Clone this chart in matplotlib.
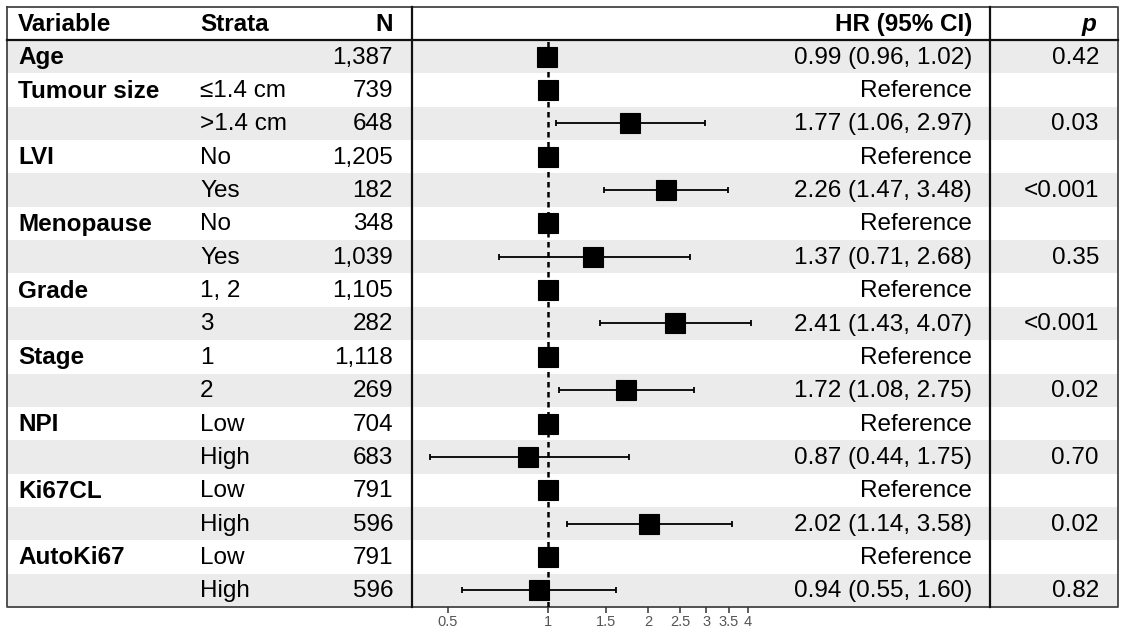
import numpy as np
import matplotlib.pyplot as plt

plt.rcParams['font.family'] = ['Liberation Sans', 'DejaVu Sans']

# table contents, one entry per row
variables = ['Age', 'Tumour size', '', 'LVI', '', 'Menopause', '', 'Grade', '',
             'Stage', '', 'NPI', '', 'Ki67CL', '', 'AutoKi67', '']
strata = ['', '\u22641.4 cm', '>1.4 cm', 'No', 'Yes', 'No', 'Yes', '1, 2', '3',
          '1', '2', 'Low', 'High', 'Low', 'High', 'Low', 'High']
n_obs = [1387, 739, 648, 1205, 182, 348, 1039, 1105, 282, 1118, 269,
         704, 683, 791, 596, 791, 596]
# nan = reference level
hr = [0.99, np.nan, 1.77, np.nan, 2.26, np.nan, 1.37, np.nan, 2.41,
      np.nan, 1.72, np.nan, 0.87, np.nan, 2.02, np.nan, 0.94]
ci_lo = [0.96, np.nan, 1.06, np.nan, 1.47, np.nan, 0.71, np.nan, 1.43,
         np.nan, 1.08, np.nan, 0.44, np.nan, 1.14, np.nan, 0.55]
ci_hi = [1.02, np.nan, 2.97, np.nan, 3.48, np.nan, 2.68, np.nan, 4.07,
         np.nan, 2.75, np.nan, 1.75, np.nan, 3.58, np.nan, 1.60]
p_vals = ['0.42', '', '0.03', '', '<0.001', '', '0.35', '', '<0.001',
          '', '0.02', '', '0.70', '', '0.02', '', '0.82']
x_ticks = [0.5, 1, 1.5, 2, 2.5, 3, 3.5, 4]

W, H = 1127, 633
fig = plt.figure(figsize=(W / 100, H / 100), dpi=100)

# layout in pixels
top, head_bot, bot = 7, 40, 607
left, right = 7, 1118
x_sep1, x_sep2 = 412, 990
n_rows = len(variables)
row_h = (bot - head_bot) / n_rows
fs = 17.5

ax = fig.add_axes([0, 0, 1, 1])
ax.set_xlim(0, W)
ax.set_ylim(H, 0)
ax.axis('off')

# striped rows
for i in range(n_rows):
    if i % 2 == 0:
        y0 = head_bot + i * row_h
        ax.add_patch(plt.Rectangle((left, y0), right - left, row_h,
                                   color='#ebebeb', lw=0, zorder=0))

# borders
ax.plot([left, right, right, left, left], [top, top, bot, bot, top],
        color='#444444', lw=1.3, zorder=3)
ax.plot([left, right], [head_bot, head_bot], color='#111111', lw=1.6, zorder=3)
ax.plot([x_sep1, x_sep1], [top, bot], color='#111111', lw=1.6, zorder=3)
ax.plot([x_sep2, x_sep2], [top, bot], color='#111111', lw=1.6, zorder=3)

# header
hy = (top + head_bot) / 2 + 1
ax.text(18, hy, 'Variable', fontsize=fs, fontweight='bold', va='center')
ax.text(200, hy, 'Strata', fontsize=fs, fontweight='bold', va='center')
ax.text(393, hy, 'N', fontsize=fs, fontweight='bold', va='center', ha='right')
ax.text(972, hy, 'HR (95% CI)', fontsize=fs, fontweight='bold', va='center', ha='right')
ax.text(1096, hy, 'p', fontsize=fs, fontweight='bold', fontstyle='italic',
        va='center', ha='right')

for i in range(n_rows):
    yc = head_bot + (i + 0.5) * row_h + 1
    ax.text(18, yc, variables[i], fontsize=fs, fontweight='bold', va='center')
    ax.text(200, yc, strata[i], fontsize=fs, va='center')
    ax.text(393, yc, f'{n_obs[i]:,}', fontsize=fs, va='center', ha='right')
    if np.isnan(hr[i]):
        lab = 'Reference'
    else:
        lab = f'{hr[i]:.2f} ({ci_lo[i]:.2f}, {ci_hi[i]:.2f})'
    ax.text(972, yc, lab, fontsize=fs, va='center', ha='right')
    ax.text(1099, yc, p_vals[i], fontsize=fs, va='center', ha='right')

# forest panel (log scale, 1 at x=548px, 0.5 at x=448px)
x_one, px_per_log = 548, 100 / np.log(2)
fx = fig.add_axes([x_sep1 / W, (H - bot) / H, (x_sep2 - x_sep1) / W, (bot - head_bot) / H])
fx.patch.set_alpha(0)
fx.set_xscale('log')
fx.set_xlim(np.exp((x_sep1 - x_one) / px_per_log), np.exp((x_sep2 - x_one) / px_per_log))
fx.set_ylim(n_rows - 0.5, -0.5)
for s in fx.spines.values():
    s.set_visible(False)

fx.axvline(1, color='black', lw=1.8, ls=(0, (2.2, 1.8)), zorder=1)

rows = np.arange(n_rows)
hr_arr = np.array(hr)
lo_arr = np.array(ci_lo)
hi_arr = np.array(ci_hi)
has_ci = ~np.isnan(hr_arr)
fx.errorbar(hr_arr[has_ci], rows[has_ci],
            xerr=[hr_arr[has_ci] - lo_arr[has_ci], hi_arr[has_ci] - hr_arr[has_ci]],
            fmt='none', ecolor='black', elinewidth=1.3, capsize=2.2, capthick=1.3, zorder=2)
hr_plot = np.where(has_ci, hr_arr, 1.0)
fx.plot(hr_plot, rows, 's', color='black', ms=14.5, mew=0.8, zorder=3)

fx.set_yticks([])
fx.set_xticks(x_ticks)
fx.set_xticklabels([f'{t:g}' for t in x_ticks])
fx.minorticks_off()
fx.tick_params(axis='x', length=4, width=1.1, color='#333333', labelcolor='#555555',
               labelsize=10.5, pad=2)

fig.savefig('out.png', dpi=100)
